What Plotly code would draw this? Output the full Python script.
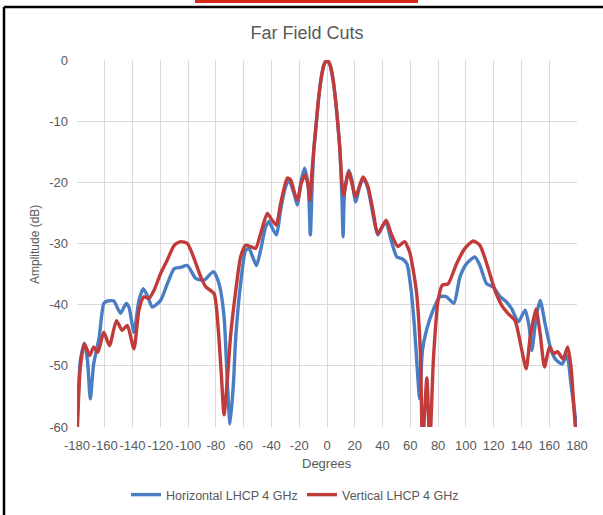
import plotly.graph_objects as go

# Angles (degrees) and amplitudes (dB)
h_deg = [-180, -177.5, -174.7, -172.5, -170.4, -168, -164, -160.7, -158, -153.5,
         -148.7, -144.6, -142.6, -139, -135.4, -132.3, -129, -125.8, -119.8, -115,
         -110, -105.3, -100.5, -94.5, -88.5, -81.8, -77.7, -74.1, -71.7, -69.8,
         -67.4, -65.7, -62.2, -58.6, -56.2, -53, -50.7, -47.8, -44.2, -41.8,
         -38.7, -36.3, -33.4, -29.8, -27.4, -23.8, -21.4, -19, -16.2, -13.5,
         -12, -10.8, -9.5, -8, -6, -4, -2, 0, 2, 4,
         6, 8, 9.3, 10.8, 11.6, 12.7, 15.8, 18.2, 20.6, 23.5,
         26.3, 29.5, 33, 36.6, 42.2, 46.2, 50.3, 54.1, 57.5, 60.6,
         63, 65.4, 66.7, 68.7, 71.6, 76.4, 81.2, 86, 91.3, 95.7,
         100.5, 106.5, 110.1, 115, 119.8, 124.6, 129.4, 133, 137.8, 142.7,
         145.6, 147.5, 150.6, 153.5, 157.1, 160.7, 164.4, 169.2, 172.8, 175.7,
         178.8, 180]
h_db = [-60, -49, -46.3, -49, -55.4, -49.7, -45.3, -39.8, -39.4, -39.4,
        -41.4, -39.8, -40.4, -44.5, -39.3, -37.4, -38.7, -40.4, -39.3, -36.6,
        -34.1, -33.9, -33.6, -35.7, -36, -34.6, -36.6, -42, -53, -59.5,
        -53, -45.3, -36.6, -31.1, -30.8, -32.5, -33.6, -31.1, -27.3, -26.4,
        -27.8, -28.6, -24.5, -20.7, -19.6, -21.8, -23.7, -20.2, -17.7, -20.7,
        -28.6, -21.2, -14.7, -11, -6.2, -2.7, -0.7, 0, -0.7, -2.7,
        -6.2, -11, -14.7, -22.9, -28.9, -21.3, -18, -19.9, -23.2, -20.7,
        -19.3, -21, -25.1, -28.6, -26.4, -29.5, -32.2, -32.5, -33.3, -37.7,
        -43.7, -51.9, -55.4, -47.5, -44.2, -40.9, -38.7, -38.7, -39.8, -35.5,
        -33.3, -32.2, -33.6, -36.6, -37.1, -38.7, -39.6, -40.7, -42.8, -40.9,
        -43.7, -47.5, -42, -39.3, -43.2, -46.9, -48.9, -49.7, -48.3, -53,
        -58.4, -60]

v_deg = [-180, -177.6, -174.7, -170.8, -168, -165, -160.7, -156.6, -151.6, -147.5,
         -143.8, -139, -135.4, -131.8, -128.2, -124.6, -119.8, -115, -110, -105.3,
         -100.5, -95.6, -90.8, -87.2, -81.3, -78.4, -76.2, -74.1, -71.7, -69.3,
         -65.7, -62.2, -58.6, -55, -51.4, -47.8, -43, -39.5, -36.5, -33.4,
         -28.6, -26.2, -22.6, -21, -18.6, -15.9, -13.8, -12.3, -11.1, -9.5,
         -8, -6, -4, -2, 0, 2, 4, 6, 8, 9.3,
         10.8, 12, 15.6, 20.6, 25.9, 29.5, 33, 36.6, 42.6, 46.2,
         51, 55.8, 59.5, 64.3, 67.2, 68.8, 71.9, 74, 76.6, 80,
         83.1, 87.2, 93.3, 99.3, 105.3, 110.1, 115, 121, 125.8, 130.6,
         135.4, 140.3, 143.4, 146.3, 150.4, 153.5, 156.6, 160.2, 163.1, 166,
         169.9, 173.3, 175.7, 178.8, 180]
v_db = [-62, -50.2, -46.4, -48.3, -46.9, -47.8, -44.5, -46.7, -42.6, -44.2,
        -43.4, -47.2, -40.9, -38.7, -39, -37.7, -34.9, -32.7, -30.3, -29.7,
        -30, -32.5, -35.5, -37.1, -38.2, -43.7, -51, -58, -52, -44.8,
        -37.7, -32.2, -30.3, -30.5, -30.8, -28.4, -25.1, -26.2, -27, -23.5,
        -19.3, -19.6, -22.3, -22.9, -20.2, -18.8, -20.2, -22.9, -19, -14.7,
        -11, -6.2, -2.7, -0.7, 0, -0.7, -2.7, -6.2, -11, -14.7,
        -20.2, -22.1, -18.3, -22.3, -19.1, -20.7, -24.5, -28.4, -26.2, -28.4,
        -30.5, -29.7, -31.4, -37.7, -47.5, -63, -52, -63, -49, -39.3,
        -36.8, -36.6, -33.3, -30.8, -29.6, -30.3, -33.3, -37.7, -40.1, -41.5,
        -42.6, -47.5, -50.5, -45.3, -40.7, -44.8, -50.2, -46.9, -48, -47.7,
        -48.9, -46.9, -50.2, -60, -62]

x_ticks = list(range(-180, 181, 20))
x_labels = [str(v) for v in x_ticks]
y_ticks = list(range(-60, 1, 10))
y_labels = [str(v) for v in y_ticks]

TEXT = "#595959"
GRID = "#d9d9d9"
FONT = "Liberation Sans, Arial, sans-serif"

fig = go.Figure()

fig.add_trace(go.Scatter(
    x=h_deg, y=h_db, mode="lines", name="Horizontal LHCP 4 GHz",
    line=dict(color="#4a7ec4", width=3.4, shape="spline", smoothing=0.6)
))
fig.add_trace(go.Scatter(
    x=v_deg, y=v_db, mode="lines", name="Vertical LHCP 4 GHz",
    line=dict(color="#c23b3b", width=3.4, shape="spline", smoothing=0.6)
))

# plot area: 77..577 px horizontally, 60..427 px vertically
def px(x):
    return (x - 77) / 500

def py(y):
    return (427 - y) / 367

fig.update_layout(
    width=603, height=515,
    margin=dict(l=77, r=26, t=60, b=88, autoexpand=False),
    paper_bgcolor="white", plot_bgcolor="white",
    font=dict(family=FONT, color=TEXT, size=13),
    title=dict(text="Far Field Cuts", font=dict(size=18, color=TEXT),
               xref="paper", x=px(307), xanchor="center",
               yref="container", y=1 - 33 / 515, yanchor="middle"),
    xaxis=dict(range=[-180, 180], tickvals=x_ticks, ticktext=x_labels,
               tickangle=0, showgrid=True, gridcolor=GRID, gridwidth=1,
               zeroline=False, showline=False, ticks="",
               ticklabelstandoff=9, automargin=False,
               tickfont=dict(size=13, color=TEXT)),
    yaxis=dict(range=[-60, 0], tickvals=y_ticks, ticktext=y_labels,
               showgrid=True, gridcolor=GRID, gridwidth=1,
               zeroline=False, showline=False, ticks="",
               ticklabelstandoff=8, automargin=False,
               tickfont=dict(size=13, color=TEXT)),
    legend=dict(orientation="h", x=px(302), xanchor="center",
                y=py(495), yanchor="middle", entrywidth=131,
                font=dict(size=12.5, color=TEXT), bgcolor="rgba(0,0,0,0)"),
    showlegend=True,
)

fig.add_annotation(text="Degrees", xref="paper", yref="paper",
                   x=px(327), y=py(463), xanchor="center", yanchor="middle",
                   showarrow=False, font=dict(size=13, color=TEXT))
fig.add_annotation(text="Amplitude (dB)", xref="paper", yref="paper",
                   x=px(35), y=py(245), xanchor="center", yanchor="middle",
                   showarrow=False, textangle=-90,
                   font=dict(size=12, color=TEXT))

# frame lines and red bar from the screenshot crop
fig.add_shape(type="line", xref="paper", yref="paper",
              x0=px(4), x1=px(4), y0=py(7), y1=py(520),
              line=dict(color="black", width=2.5))
fig.add_shape(type="line", xref="paper", yref="paper",
              x0=px(4), x1=px(610), y0=py(7), y1=py(7),
              line=dict(color="black", width=2.5))
fig.add_shape(type="rect", xref="paper", yref="paper",
              x0=px(195), x1=px(418), y0=py(3), y1=py(-2),
              fillcolor="#d9291c", line=dict(width=0))

# drop the default 8px body margin so the figure fills the window
fig.write_html("out.html", config={"displayModeBar": False},
               post_script="document.body.style.margin='0';document.body.style.overflow='hidden';")
